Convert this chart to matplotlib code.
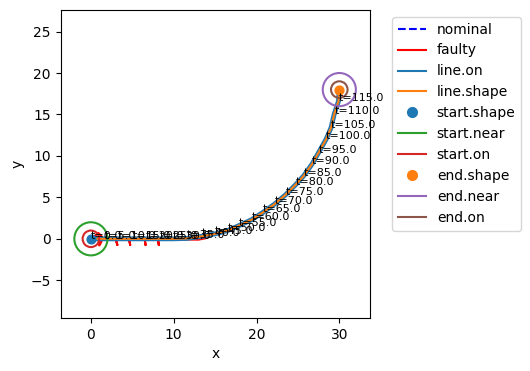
import matplotlib
matplotlib.use("Agg")
import matplotlib.pyplot as plt
from matplotlib.patches import Circle
from matplotlib.lines import Line2D

# trajectory samples (time, x, y)
t_vals = [0, 5, 10, 15, 20, 25, 30, 35, 40, 45, 50, 55, 60, 65, 70, 75,
          80, 85, 90, 95, 100, 105, 110, 115]
x_vals = [0.0, 1.65, 3.3, 5.0, 6.6, 8.3, 9.9, 11.6, 13.4, 15.0, 16.5, 17.9,
          19.4, 20.8, 22.2, 23.5, 24.7, 25.7, 26.7, 27.5, 28.4, 29.0, 29.4, 29.9]
y_vals = [0.0, 0.0, 0.0, 0.0, 0.0, 0.0, 0.0, 0.05, 0.3, 0.6, 1.0, 1.6,
          2.3, 3.2, 4.2, 5.3, 6.5, 7.6, 9.0, 10.4, 12.0, 13.4, 15.1, 16.6]
end_pt = (30.0, 18.0)
start_pt = (0.0, 0.0)

line_x = x_vals + [end_pt[0]]
line_y = y_vals + [end_pt[1]]

# faulty trajectory (with small hooks)
faulty_x = [0.0, 0.9, 1.3, 1.35, 1.2, 1.0, 1.2, 3.0, 3.2, 3.0, 4.6, 4.75, 4.6,
            6.5, 6.6, 6.5, 8.1, 8.2, 8.1, 13.0, 14.0]
faulty_y = [0.0, 0.7, 0.3, -0.1, -0.5, -0.8, -0.05, -0.05, -0.75, -0.05,
            -0.05, -0.75, -0.05, -0.05, -0.75, -0.05, -0.05, -0.75, -0.05,
            -0.1, 0.1]

start_near_r = 2.0
start_on_r = 1.0
end_near_r = 2.0
end_on_r = 1.0

fig = plt.figure(figsize=(5.3, 3.71), dpi=100)
ax = fig.add_axes([0.1145, 0.1429, 0.5835, 0.8301])

ax.plot(line_x, line_y, 'b--', label='nominal', zorder=1)
ax.plot(faulty_x, faulty_y, color='red', lw=1.5, label='faulty', zorder=2)
ax.plot(line_x, line_y, color='C0', lw=3.5, label='line.on', zorder=3)
ax.plot(line_x, line_y, color='C1', lw=1.5, label='line.shape', zorder=4)
ax.scatter([start_pt[0]], [start_pt[1]], color='C0', s=40, zorder=5)
ax.add_patch(Circle(start_pt, start_near_r, fill=False, color='C2', lw=1.5, zorder=5))
ax.add_patch(Circle(start_pt, start_on_r, fill=False, color='C3', lw=1.5, zorder=5))
ax.scatter([end_pt[0]], [end_pt[1]], color='C1', s=40, zorder=5)
ax.add_patch(Circle(end_pt, end_near_r, fill=False, color='C4', lw=1.5, zorder=5))
ax.add_patch(Circle(end_pt, end_on_r, fill=False, color='C5', lw=1.5, zorder=5))

for t, x, y in zip(t_vals, x_vals, y_vals):
    ax.text(x, y, f"t={t:.1f}", fontsize=8, zorder=6)

handles = [
    Line2D([], [], color='blue', ls='--'),
    Line2D([], [], color='red'),
    Line2D([], [], color='C0'),
    Line2D([], [], color='C1'),
    Line2D([], [], color='C0', marker='o', ls='', markersize=7),
    Line2D([], [], color='C2'),
    Line2D([], [], color='C3'),
    Line2D([], [], color='C1', marker='o', ls='', markersize=7),
    Line2D([], [], color='C4'),
    Line2D([], [], color='C5'),
]
labels = ['nominal', 'faulty', 'line.on', 'line.shape', 'start.shape',
          'start.near', 'start.on', 'end.shape', 'end.near', 'end.on']
ax.legend(handles, labels, loc='upper left', bbox_to_anchor=(1.05, 1))

ax.set_xlim(-3.65, 33.7)
ax.set_ylim(-9.55, 27.6)
ax.set_xticks([0, 10, 20, 30])
ax.set_yticks([-5, 0, 5, 10, 15, 20, 25])
ax.set_xlabel('x')
ax.set_ylabel('y')

fig.savefig('out.png', dpi=100)
